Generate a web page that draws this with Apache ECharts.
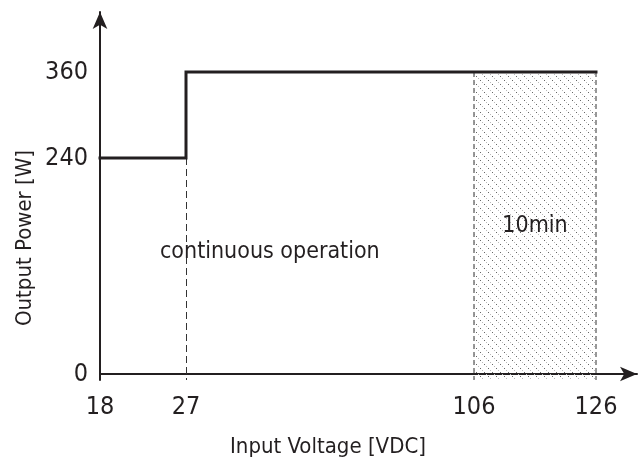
<!DOCTYPE html>
<html>
<head>
<meta charset="utf-8">
<script src="https://cdn.jsdelivr.net/npm/echarts@6/dist/echarts.min.js"></script>
<style>
html, body { margin: 0; padding: 0; background: #fff; }
#main { width: 638px; height: 461px; }
</style>
</head>
<body>
<div id="main"></div>
<script>
// values
var voltTicks = [18, 27, 106, 126];
var powerTicks = [0, 240, 360];
var stepVolt = [18, 27, 27, 126];
var stepPower = [240, 240, 360, 360];
var contVolt = 27;            // dashed line at end of 240 W range
var timedVolt = [106, 126];   // hatched 10 min band
var timedText = '10min';
var contText = 'continuous operation';
var contTextAt = [50, 135];   // volt, watt
var xName = 'Input Voltage [VDC]';
var yName = 'Output Power [W]';

// the drawing is schematic, ticks are not on a linear scale:
// each tick value is pinned to a distance (px) along its axis
var voltTickAt = [0, 86, 374, 496];
var powerTickAt = [0, 216, 302];
var below = -6; // dashed lines run a bit under the x axis

var FONT = "'DejaVu Sans Condensed', 'Liberation Sans Narrow', sans-serif";
var INK = '#231f20';

function warp(v, ticks, at) {
  var i = 1;
  while (i < ticks.length - 1 && v > ticks[i]) i++;
  var t = (v - ticks[i - 1]) / (ticks[i] - ticks[i - 1]);
  return at[i - 1] + t * (at[i] - at[i - 1]);
}
function X(v) { return warp(v, voltTicks, voltTickAt); }
function Y(p) { return warp(p, powerTicks, powerTickAt); }
function tickName(val, ticks, at) {
  var best = 0;
  for (var i = 1; i < at.length; i++) {
    if (Math.abs(at[i] - val) < Math.abs(at[best] - val)) best = i;
  }
  return String(ticks[best]);
}

// dotted diagonal hatch
function hatch() {
  var c = document.createElement('canvas');
  c.width = 8; c.height = 8;
  var g = c.getContext('2d');
  for (var i = 0; i < 8; i += 2) {
    g.fillStyle = i % 4 ? '#bbb' : '#666';
    g.fillRect(i, i, 1, 1);
  }
  return c;
}

var chart = echarts.init(document.getElementById('main'), null, { renderer: 'canvas' });

var stepData = stepVolt.map(function (v, i) { return [X(v), Y(stepPower[i])]; });

var option = {
  animation: false,
  backgroundColor: '#fff',
  textStyle: { fontFamily: FONT },
  // x axis title (axis name gets dropped near the bottom edge)
  title: {
    text: xName,
    left: 230,
    top: 436,
    padding: 0,
    textStyle: { color: INK, fontSize: 22, fontWeight: 'normal', fontFamily: FONT }
  },
  grid: {
    left: 100, right: 1, top: 12, bottom: 81,
    containLabel: false, outerBoundsMode: 'none'
  },
  xAxis: {
    type: 'value',
    min: 0,
    max: 537,
    axisLine: {
      onZero: true,
      symbol: ['none', 'arrow'],
      symbolSize: [11, 17],
      lineStyle: { color: INK, width: 2 }
    },
    axisTick: { show: false },
    splitLine: { show: false },
    axisLabel: {
      customValues: voltTickAt,
      formatter: function (val) { return tickName(val, voltTicks, voltTickAt); },
      color: INK, fontSize: 25, margin: 15, fontFamily: FONT
    }
  },
  yAxis: {
    type: 'value',
    min: below,
    max: 362,
    axisLine: {
      show: true,
      symbol: ['none', 'arrow'],
      symbolSize: [11, 17],
      lineStyle: { color: INK, width: 2 }
    },
    axisTick: { show: false },
    splitLine: { show: false },
    axisLabel: {
      customValues: powerTickAt,
      formatter: function (val) { return tickName(val, powerTicks, powerTickAt); },
      color: INK, fontSize: 25, margin: 12, fontFamily: FONT
    },
    name: yName,
    nameLocation: 'middle',
    nameRotate: 90,
    nameGap: 64,
    nameMoveOverlap: false,
    nameTextStyle: { color: INK, fontSize: 22, fontFamily: FONT, padding: [0, 84, 0, 0] }
  },
  series: [
    {
      // guide lines and hatched band
      type: 'line',
      data: [],
      z: 1,
      markArea: {
        silent: true,
        itemStyle: { color: { image: hatch(), repeat: 'repeat' }, borderWidth: 0 },
        label: {
          show: true, position: 'inside', formatter: timedText,
          color: INK, fontSize: 23, fontFamily: FONT
        },
        data: [[
          { coord: [X(timedVolt[0]), Y(stepPower[3])] },
          { coord: [X(timedVolt[1]), below] }
        ]]
      },
      markLine: {
        silent: true,
        symbol: 'none',
        label: { show: false },
        data: [
          [{ coord: [X(contVolt), Y(stepPower[0])], lineStyle: { color: '#333', type: [7, 4], width: 1 } },
           { coord: [X(contVolt), below] }],
          [{ coord: [X(timedVolt[0]), Y(stepPower[3])], lineStyle: { color: '#777', type: [5, 3], width: 1.5 } },
           { coord: [X(timedVolt[0]), below] }],
          [{ coord: [X(timedVolt[1]), Y(stepPower[3])], lineStyle: { color: '#777', type: [5, 3], width: 1.5 } },
           { coord: [X(timedVolt[1]), below] }]
        ]
      }
    },
    {
      type: 'line',
      data: stepData,
      z: 5,
      showSymbol: false,
      lineStyle: { color: INK, width: 3, cap: 'square', join: 'miter' },
      markPoint: {
        silent: true,
        symbol: 'circle',
        symbolSize: 1,
        itemStyle: { color: 'rgba(0,0,0,0)' },
        label: {
          show: true, position: 'inside', formatter: contText,
          color: INK, fontSize: 23, fontFamily: FONT
        },
        data: [{ coord: [X(contTextAt[0]), Y(contTextAt[1])] }]
      }
    }
  ]
};

chart.setOption(option);
</script>
</body>
</html>
